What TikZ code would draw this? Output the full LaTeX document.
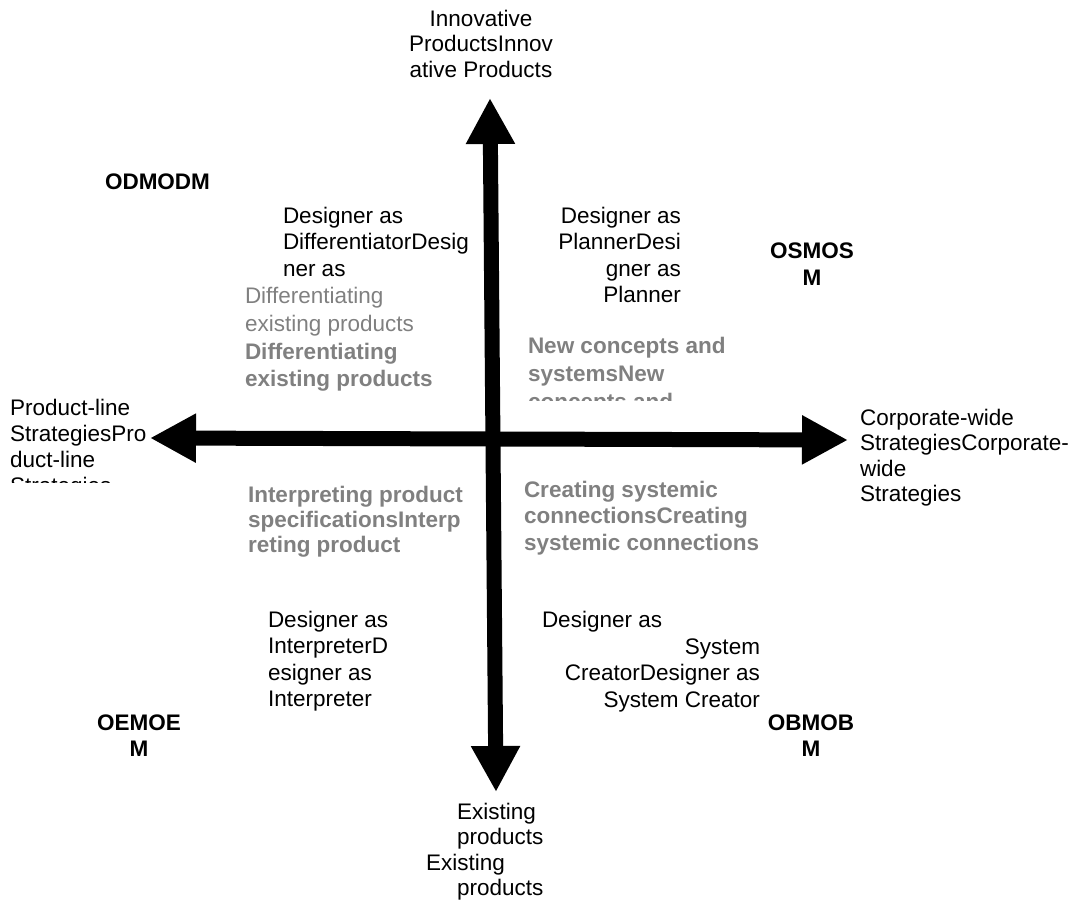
\documentclass[tikz,border=0pt]{standalone}
\usepackage{fontspec}
\setmainfont{Liberation Sans}
\usetikzlibrary{arrows.meta}
\definecolor{txtgray}{RGB}{128,128,128}
\newcommand{\fst}{\rule{0pt}{17pt}}
\begin{document}
\begin{tikzpicture}[x=1pt,y=-1pt,
  lbl/.style={inner sep=0pt, outer sep=0pt, font=\fontsize{22.5}{#1}\selectfont},
  lbl/.default=26,
  blk/.style={lbl=#1, anchor=north west, align=left},
  blk/.default=26,
  blkr/.style={lbl=#1, anchor=north east, align=right},
  blkr/.default=26,
  blkc/.style={lbl=#1, anchor=north, align=center},
  blkc/.default=26,
  grey/.style={text=txtgray},
  axis/.style={line width=15pt, {Triangle[width=46pt,length=46pt]}-{Triangle[width=46pt,length=46pt]}}
]
\useasboundingbox (0,0) rectangle (1088,902);
% axes
\coordinate (vtop) at (490,98);
\coordinate (vbot) at (496,792);
\coordinate (hleft) at (150,438);
\coordinate (hright) at (848,440);
\draw[axis] (hleft) -- (hright);
\draw[axis] (vtop) -- (vbot);

% axis labels
\node[blkc=25.5] (innov) at (481,9) {\fst Innovative\\ProductsInnov\\ative Products};
\begin{scope}
  \clip (0,380) rectangle (200,482);
  \node[blk=26] (pline) at (10,398) {\fst Product-line\\StrategiesPro\\duct-line\\Strategies};
\end{scope}
\node[blk=25.5] (corp) at (860,408) {\fst Corporate-wide\\StrategiesCorporate-\\wide\\Strategies};
\node[blk=25] (exist1) at (457,802) {\fst Existing\\products};
\node[blk=25] (exist2) at (426,853) {\fst Existing};
\node[blk=25] (exist3) at (457,878) {\fst products};

% quadrant codes
\node[blk, font=\fontsize{22.5}{26}\bfseries] (odm) at (105,172) {\fst ODMODM};
\node[blkc=27, font=\fontsize{22.5}{27}\bfseries] (osm) at (812,241) {\fst OSMOS\\M};
\node[blkc=26, font=\fontsize{22.5}{26}\bfseries] (oem) at (139,713) {\fst OEMOE\\M};
\node[blkc=26, font=\fontsize{22.5}{26}\bfseries] (obm) at (811,713) {\fst OBMOB\\M};

% roles
\node[blk=26.5] (diffr) at (283,206) {\fst Designer as\\DifferentiatorDesig\\ner as};
\node[blkr=26.5] (plan) at (681,206) {\fst Designer as\\PlannerDesi\\gner as\\Planner};
\node[blk=26.5] (interp) at (268,610) {\fst Designer as\\InterpreterD\\esigner as\\Interpreter};
\node[blk] (sysc1) at (542,610) {\fst Designer as};
\node[blkr=26.5] (sysc2) at (760,637) {\fst System\\CreatorDesigner as\\System Creator};

% activities
\node[blk=28, grey] (diffreg) at (245,286) {\fst Differentiating\\existing products};
\node[blk=27, grey, font=\fontsize{22.5}{27}\bfseries] (diffbold) at (245,342) {\fst Differentiating\\existing products};
\begin{scope}
  \clip (500,320) rectangle (800,400);
  \node[blk=28, grey, font=\fontsize{22.5}{28}\bfseries] (newc) at (528,336) {\fst New concepts and\\systemsNew\\concepts and};
\end{scope}
\node[blk=25, grey, font=\fontsize{22.5}{25}\bfseries] (intp) at (248,485) {\fst Interpreting product\\specificationsInterp\\reting product};
\node[blk=26.5, grey, font=\fontsize{22.5}{26.5}\bfseries] (creat) at (524,480) {\fst Creating systemic\\connectionsCreating\\systemic connections};
\end{tikzpicture}
\end{document}
